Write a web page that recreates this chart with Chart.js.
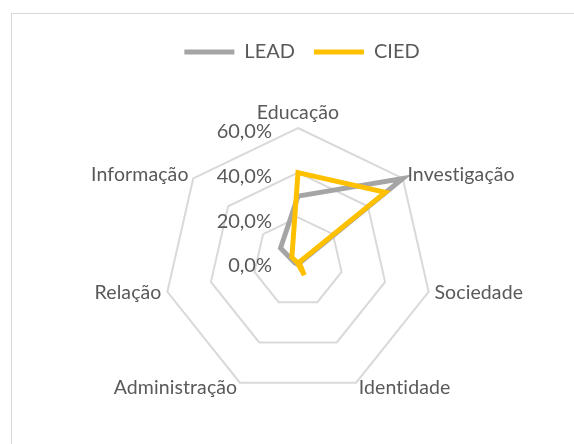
<!DOCTYPE html>
<html>
<head>
<meta charset="utf-8">
<script src="https://cdn.jsdelivr.net/npm/chart.js@4.4.0/dist/chart.umd.min.js"></script>
<style>
  html, body { margin: 0; padding: 0; background: #fff; overflow: hidden; }
  #wrap { position: relative; width: 574px; height: 444px; }
  #frame { position: absolute; left: 11px; top: 13px; width: 620px; height: 480px; border: 1px solid #d9d9d9; }
  canvas { position: absolute; left: 0; top: 0; }
</style>
</head>
<body>
<div id="wrap">
  <div id="frame"></div>
  <canvas id="radar" width="574" height="444"></canvas>
</div>
<script>
const categories = ['Educação', 'Investigação', 'Sociedade', 'Identidade', 'Administração', 'Relação', 'Informação'];
const leadValues = [29.5, 60, 1, 1, 1, 1.5, 10];
const ciedValues = [40, 50, 0.5, 6.5, 0.5, 0.5, 3.5];
const tickValues = [0, 20, 40, 60];
const tickLabels = ['0,0%', '20,0%', '40,0%', '60,0%'];

const textColor = '#595959';
const fontFamily = "Lato, 'Open Sans', sans-serif";

// category names and percentage ticks, placed the way the spreadsheet does it
const axisText = {
  id: 'axisText',
  afterDraw(chart) {
    const r = chart.scales.r;
    const ctx = chart.ctx;
    ctx.save();
    ctx.fillStyle = textColor;

    // a touch of spacing keeps Lato from joining "ti" into a ligature
    ctx.letterSpacing = '0.1px';
    ctx.font = '19.5px ' + fontFamily;
    categories.forEach((name, i) => {
      const a = r.getIndexAngle(i);
      const p = r.getPointPosition(i, r.drawingArea + 6);
      const sx = Math.sin(a);
      ctx.textAlign = Math.abs(sx) < 0.05 ? 'center' : (sx > 0 ? 'left' : 'right');
      ctx.textBaseline = Math.cos(a) > 0.95 ? 'bottom' : 'middle';
      ctx.fillText(name, p.x, p.y);
    });

    ctx.letterSpacing = '0px';
    ctx.font = '20px ' + fontFamily;
    ctx.textAlign = 'right';
    ctx.textBaseline = 'middle';
    tickValues.forEach((v, i) => {
      const y = r.yCenter - r.getDistanceFromCenterForValue(v) + 4;
      ctx.fillText(tickLabels[i], r.xCenter - 26, y);
    });
    ctx.restore();
  }
};

new Chart(document.getElementById('radar'), {
  type: 'radar',
  data: {
    labels: categories,
    datasets: [
      {
        label: 'LEAD',
        data: leadValues,
        borderColor: '#a5a5a5',
        backgroundColor: '#a5a5a5',
        borderWidth: 5,
        borderCapStyle: 'round',
        fill: false,
        pointRadius: 0,
        order: 1
      },
      {
        label: 'CIED',
        data: ciedValues,
        borderColor: '#ffc000',
        backgroundColor: '#ffc000',
        borderWidth: 5,
        borderCapStyle: 'round',
        fill: false,
        pointRadius: 0,
        order: 0
      }
    ]
  },
  options: {
    responsive: false,
    animation: false,
    events: [],
    layout: { padding: { top: 23, left: 30 } },
    plugins: {
      tooltip: { enabled: false },
      legend: {
        position: 'top',
        labels: {
          usePointStyle: true,
          pointStyle: 'line',
          pointStyleWidth: 50,
          padding: 19,
          color: textColor,
          font: { family: fontFamily, size: 20 },
          sort: (a, b) => a.datasetIndex - b.datasetIndex
        }
      }
    },
    scales: {
      r: {
        min: 0,
        max: 60,
        ticks: { display: false, stepSize: 20 },
        pointLabels: { display: false },
        angleLines: { display: false },
        grid: { color: '#d9d9d9', lineWidth: 2 },
        afterFit(scale) {
          scale.xCenter = 298;
          scale.yCenter = 262;
          scale.drawingArea = 134;
        }
      }
    }
  },
  plugins: [axisText]
});
</script>
</body>
</html>
